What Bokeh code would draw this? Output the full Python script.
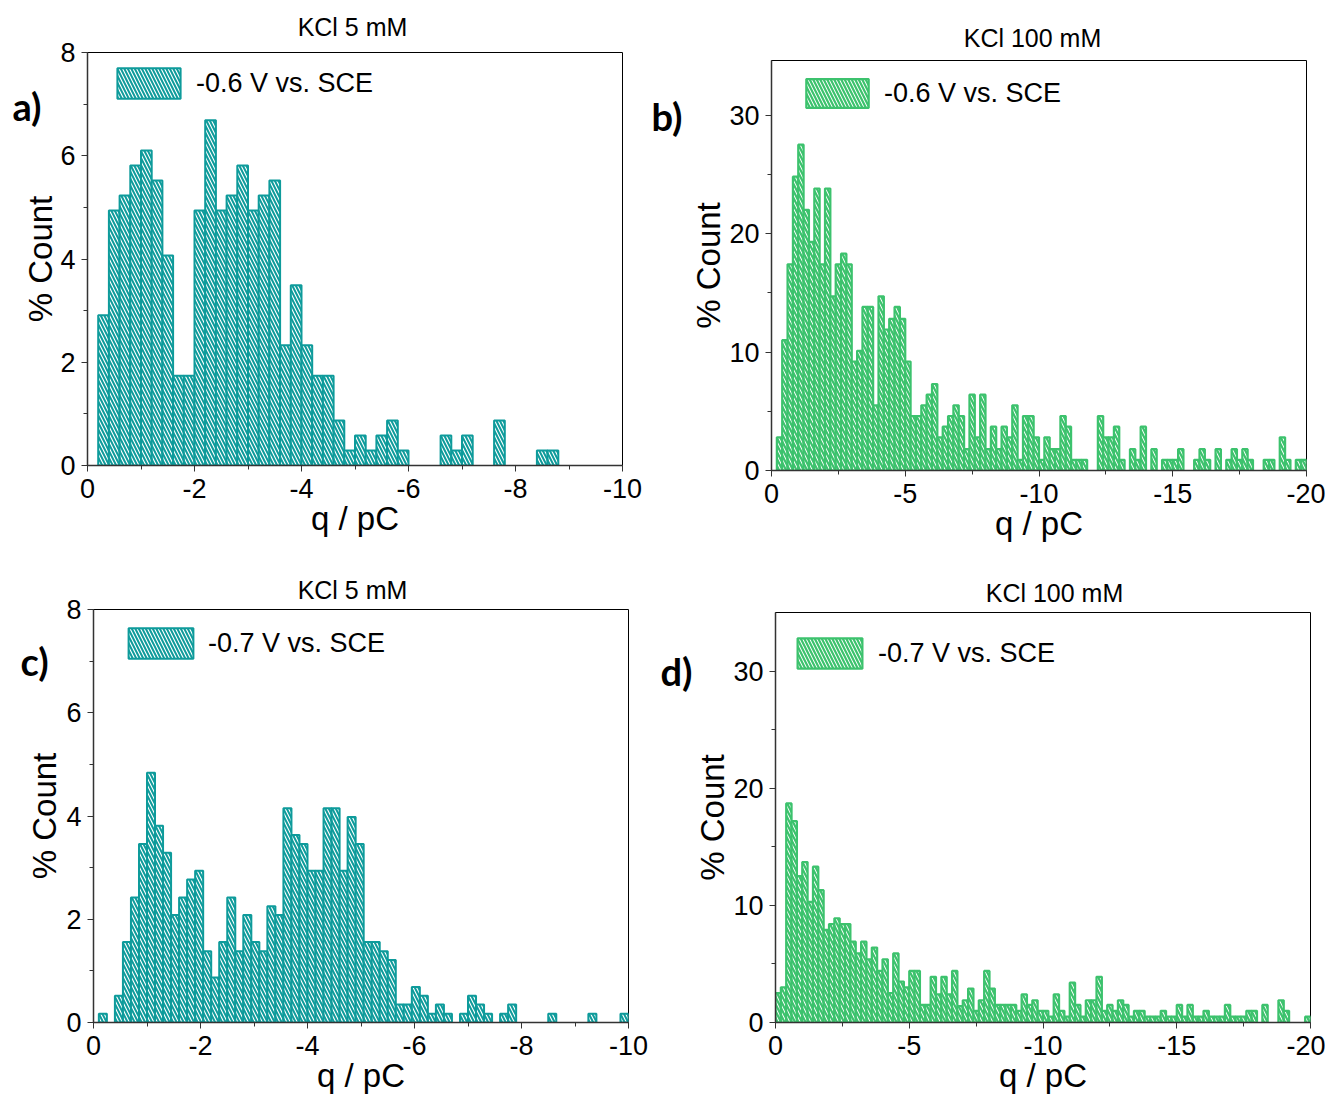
from bokeh.plotting import figure
from bokeh.models import Range1d, FixedTicker, Legend, LegendItem, Label, GridBox
from bokeh.layouts import column
from bokeh.embed import file_html
from bokeh.resources import INLINE

# ---------------- data (percent counts per bin) ----------------
a_bin_start = 0.2
a_bin_width = 0.2
a_pct = [2.91, 4.94, 5.23, 5.81, 6.10, 5.52, 4.07, 1.74, 1.74, 4.94, 6.69, 4.94,
         5.23, 5.81, 4.94, 5.23, 5.52, 2.33, 3.49, 2.33, 1.74, 1.74, 0.87, 0.29,
         0.58, 0.29, 0.58, 0.87, 0.29, 0, 0, 0, 0.58, 0.29, 0.58, 0, 0, 0.87,
         0, 0, 0, 0.29, 0.29]

b_bin_start = 0.0
b_bin_width = 0.2
b_pct = [0, 2.8, 11.0, 17.4, 24.8, 27.5, 22.0, 19.3, 23.8, 17.4,
         23.8, 14.7, 17.4, 18.3, 17.4, 9.2, 10.1, 13.8, 13.8, 5.5,
         14.7, 11.9, 12.8, 13.8, 12.8, 9.2, 4.6, 4.6, 5.5, 6.4,
         7.3, 2.8, 3.7, 4.6, 5.5, 4.6, 1.8, 6.4, 2.8, 6.4,
         1.8, 3.7, 1.8, 3.7, 2.8, 5.5, 0.9, 4.6, 4.6, 2.8,
         0.9, 2.8, 1.8, 1.8, 4.6, 3.7, 0.9, 0.9, 0.9, 0,
         0, 4.6, 2.8, 2.8, 3.7, 0.9, 0, 1.8, 0.9, 3.7,
         0, 1.8, 0, 0.9, 0.9, 0.9, 1.8, 0, 0, 0.9,
         1.8, 0.9, 0, 1.8, 0, 0.9, 1.8, 0.9, 1.8, 0.9,
         0, 0, 0.9, 0.9, 0, 2.8, 0.9, 0, 0.9, 0.9]

c_bin_start = 0.1
c_bin_width = 0.15
c_pct = [0.17, 0, 0.52, 1.56, 2.42, 3.46, 4.84, 3.81, 3.29, 2.08,
         2.42, 2.77, 2.94, 1.38, 0.87, 1.56, 2.42, 1.38, 2.08, 1.56,
         1.38, 2.25, 2.08, 4.15, 3.63, 3.46, 2.94, 2.94, 4.15, 4.15,
         2.94, 3.98, 3.46, 1.56, 1.56, 1.38, 1.21, 0.35, 0.35, 0.69,
         0.52, 0.17, 0.35, 0.17, 0, 0.17, 0.52, 0.35, 0.17, 0,
         0.17, 0.35, 0, 0, 0, 0, 0.17, 0, 0, 0,
         0, 0.17, 0, 0, 0, 0.17]

d_bin_start = 0.0
d_bin_width = 0.2
d_pct = [2.5, 3.0, 18.7, 17.2, 12.5, 13.7, 10.3, 13.3, 11.3, 7.9,
         8.4, 8.9, 8.4, 8.4, 6.9, 5.9, 6.9, 5.4, 6.4, 4.4,
         5.4, 2.5, 5.9, 3.5, 3.0, 4.4, 4.4, 1.5, 1.5, 3.9,
         2.4, 3.9, 2.4, 4.4, 1.4, 1.9, 2.9, 1.0, 1.9, 4.4,
         2.9, 1.5, 1.5, 1.5, 1.5, 1.0, 2.4, 1.5, 1.9, 1.0,
         1.0, 0.5, 2.4, 1.0, 0.5, 3.4, 1.5, 0.5, 1.9, 1.9,
         3.9, 1.0, 1.5, 1.0, 1.9, 1.5, 0.5, 1.0, 1.0, 0.5,
         0.5, 0.5, 1.0, 0.5, 0.5, 1.5, 0.5, 1.5, 0.5, 0.5,
         1.0, 0.5, 0.5, 0.5, 1.5, 0.5, 0.5, 0.5, 1.0, 1.0,
         0, 1.5, 0, 0, 1.9, 1.0, 0, 0, 0, 0.5]

titles = ["KCl 5 mM", "KCl 100 mM", "KCl 5 mM", "KCl 100 mM"]
legend_labels = ["-0.6 V vs. SCE", "-0.6 V vs. SCE", "-0.7 V vs. SCE", "-0.7 V vs. SCE"]
panel_letters = ["a)", "b)", "c)", "d)"]
x_label = "q / pC"
y_label = "% Count"

TEAL = "#0e9b9b"
GREEN = "#3cc26d"
FONT = "Liberation Sans"
PAGE_W, PAGE_H = 1325, 1099


def bars(pct, start, width):
    left, right, top = [], [], []
    for k, v in enumerate(pct):
        if v > 0:
            left.append(-(start + k * width))
            right.append(-(start + (k + 1) * width))
            top.append(v)
    return left, right, top


def panel(pct, start, width, xmax, ymax, xt, xminor, yt, yminor, color,
          leg, W, H, bl, br, bt, bb,
          leg_x, leg_top, leg_w, leg_h, leg_standoff, ylab_standoff,
          lw, hscale, hweight):
    p = figure(width=W, height=H, x_range=Range1d(0, -xmax), y_range=Range1d(0, ymax),
               output_backend="svg", toolbar_location=None,
               min_border_left=bl, min_border_right=br, min_border_top=bt,
               min_border_bottom=bb)
    p.background_fill_color = "white"
    p.border_fill_color = "white"
    p.outline_line_color = "black"
    p.outline_line_width = 1
    p.grid.visible = False

    left, right, top = bars(pct, start, width)
    r = p.quad(left=left, right=right, bottom=0, top=top,
               fill_color="white", line_color=color, line_width=lw,
               hatch_pattern="\\", hatch_color=color, hatch_scale=hscale,
               hatch_weight=hweight)

    p.xaxis.ticker = FixedTicker(ticks=xt, minor_ticks=xminor)
    p.yaxis.ticker = FixedTicker(ticks=yt, minor_ticks=yminor)
    p.xaxis.major_label_overrides = {t: str(t) for t in xt}
    p.yaxis.major_label_overrides = {t: str(t) for t in yt}
    for ax in (p.xaxis[0], p.yaxis[0]):
        ax.axis_line_color = "#333333"
        ax.axis_line_width = 1.5
        ax.major_tick_line_color = "#333333"
        ax.minor_tick_line_color = "#333333"
        ax.major_tick_out = 6
        ax.major_tick_in = 0
        ax.minor_tick_out = 4
        ax.minor_tick_in = 0
        ax.major_label_text_font = FONT
        ax.major_label_text_font_size = "27px"
        ax.major_label_text_color = "black"
        ax.axis_label_text_font = FONT
        ax.axis_label_text_font_size = "33px"
        ax.axis_label_text_font_style = "normal"
        ax.axis_label_text_color = "black"
    p.xaxis.axis_label = x_label
    p.yaxis.axis_label = y_label
    p.xaxis.major_label_standoff = 7
    p.xaxis.axis_label_standoff = -1
    p.yaxis.major_label_standoff = 6
    p.yaxis.axis_label_standoff = ylab_standoff

    frame_h = H - bt - bb
    lg = Legend(items=[LegendItem(label=leg, renderers=[r])],
                location=(leg_x, frame_h - leg_top - leg_h),
                glyph_width=leg_w, glyph_height=leg_h, label_height=leg_h,
                label_standoff=leg_standoff, label_text_font=FONT,
                label_text_font_size="27px", label_text_color="black",
                border_line_color=None, background_fill_alpha=0,
                padding=0, margin=0)
    p.add_layout(lg)
    return p


pa = panel(a_pct, a_bin_start, a_bin_width, 10, 8, [0, -2, -4, -6, -8, -10],
           [-1, -3, -5, -7, -9], [0, 2, 4, 6, 8], [1, 3, 5, 7], TEAL,
           legend_labels[0], 650, 548, 87, 28, 52, 83,
           22, 12, 79, 38, 8, -2, 2, 7, 2)
pb = panel(b_pct, b_bin_start, b_bin_width, 20, 34.6, [0, -5, -10, -15, -20],
           [-2.5, -7.5, -12.5, -17.5], [0, 10, 20, 30], [5, 15, 25], GREEN,
           legend_labels[1], 675, 548, 121, 19, 60, 78,
           27, 15, 78, 36, 8, -1, 2.2, 7, 2.2)
pc = panel(c_pct, c_bin_start, c_bin_width, 10, 8, [0, -2, -4, -6, -8, -10],
           [-1, -3, -5, -7, -9], [0, 2, 4, 6, 8], [1, 3, 5, 7], TEAL,
           legend_labels[2], 650, 551, 93, 22, 61, 77,
           27, 15, 81, 38, 7, 0, 2, 7, 2)
pd = panel(d_pct, d_bin_start, d_bin_width, 20, 35, [0, -5, -10, -15, -20],
           [-2.5, -7.5, -12.5, -17.5], [0, 10, 20, 30], [5, 15, 25], GREEN,
           legend_labels[3], 675, 551, 125, 15, 64, 77,
           14, 22, 81, 38, 8, -1, 2.2, 7, 2.2)

# transparent overlay (page pixel coordinates) carrying the titles and panel letters
ov = figure(width=PAGE_W, height=PAGE_H, x_range=Range1d(0, PAGE_W),
            y_range=Range1d(PAGE_H, 0), output_backend="svg", toolbar_location=None,
            x_axis_type=None, y_axis_type=None, min_border=0)
ov.grid.visible = False
ov.outline_line_color = None
ov.background_fill_color = None
ov.border_fill_color = None

title_pos = [(352, 26), (1032, 37), (352, 589), (1054, 592)]
letter_pos = [(12, 105), (651, 115), (20, 660), (660, 670)]
for t, (tx, ty) in zip(titles, title_pos):
    ov.add_layout(Label(x=tx, y=ty, text=t, text_font=FONT, text_font_size="25px",
                        text_color="black", text_align="center", text_baseline="middle"))
for t, (tx, ty) in zip(panel_letters, letter_pos):
    ov.add_layout(Label(x=tx, y=ty, text=t, text_font="Lato", text_font_size="38px",
                        text_font_style="bold", text_color="black",
                        text_align="left", text_baseline="middle"))

# each plot wrapped in its own column so that the grid does not align their frames
layout = GridBox(children=[(column(pa), 0, 0), (column(pb), 0, 1),
                           (column(pc), 1, 0), (column(pd), 1, 1),
                           (column(ov), 0, 0, 2, 2)], spacing=0)
open("out.html", "w").write(file_html(layout, INLINE))
